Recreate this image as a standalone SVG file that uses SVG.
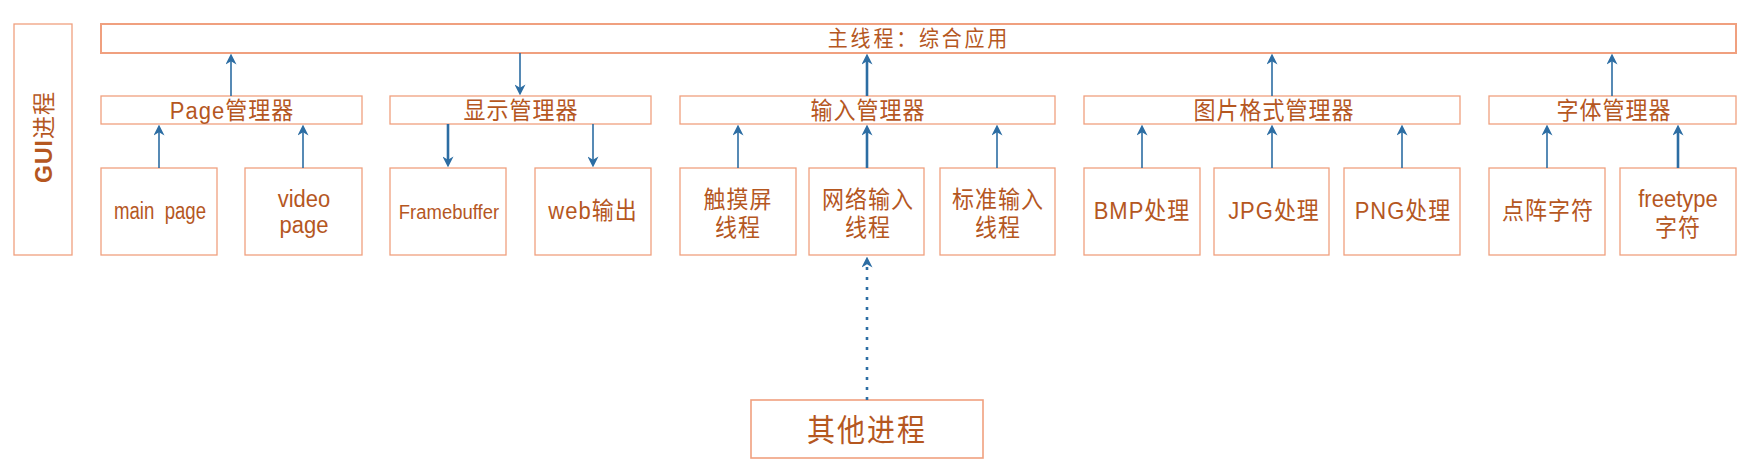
<svg xmlns="http://www.w3.org/2000/svg" width="1750" height="470" viewBox="0 0 1750 470">
<style>
.box{fill:#fff;stroke:#F0A07F;stroke-width:1.3}
.main{fill:#fff;stroke:#F0A07F;stroke-width:2}
.t,.g{font-family:"Liberation Sans","Noto Sans CJK SC",sans-serif;font-size:22px;fill:#B5571F;text-anchor:middle;letter-spacing:1px}
.t{transform-box:fill-box;transform-origin:center;transform:scaleY(1.1)}
.a{stroke:#2C6DA3;stroke-width:1.6;fill:none;marker-end:url(#ah)}
.k{stroke-width:2.6}
.d{stroke-width:2.6;stroke-dasharray:3 7}
</style>
<defs>
<marker id="ah" markerUnits="userSpaceOnUse" viewBox="0 0 10 10" refX="6" refY="5" markerWidth="11" markerHeight="11" orient="auto">
<path d="M0,0 L10,5 L0,10 L3,5 z" fill="#2C6DA3"/>
</marker>
</defs>
<rect width="1750" height="470" fill="#fff"/>
<g id="gui">
<rect class="box" x="14" y="24" width="58" height="231"/>
<g transform="translate(52,137) rotate(-90)"><text class="g" x="0" y="0" style="font-size:23px"><tspan font-weight="bold">GUI</tspan>进程</text></g>
</g>
<g id="mainthread">
<rect class="main" x="101" y="24" width="1635" height="29"/>
<text class="t" x="919" y="45" style="font-size:20px;letter-spacing:2.8px">主线程：综合应用</text>
</g>
<g id="pagemgr"><rect class="box" x="101" y="96" width="261" height="28"/><text class="t" x="232" y="118">Page管理器</text></g>
<g id="dispmgr"><rect class="box" x="390" y="96" width="261" height="28"/><text class="t" x="521" y="118">显示管理器</text></g>
<g id="inputmgr"><rect class="box" x="680" y="96" width="375" height="28"/><text class="t" x="868" y="118">输入管理器</text></g>
<g id="imgmgr"><rect class="box" x="1084" y="96" width="376" height="28"/><text class="t" x="1274" y="118">图片格式管理器</text></g>
<g id="fontmgr"><rect class="box" x="1489" y="96" width="247" height="28"/><text class="t" x="1614" y="118">字体管理器</text></g>

<g id="mainpage"><rect class="box" x="101" y="168" width="116" height="87"/><text class="t" x="160" y="218" textLength="92" lengthAdjust="spacingAndGlyphs" style="font-size:22px;letter-spacing:0" xml:space="preserve">main  page</text></g>
<g id="videopage"><rect class="box" x="245" y="168" width="117" height="87"/><text class="t" x="304" y="206" style="letter-spacing:0">video</text><text class="t" x="304" y="232" style="letter-spacing:0">page</text></g>
<g id="framebuffer"><rect class="box" x="390" y="168" width="116" height="87"/><text class="t" x="449" y="218" style="font-size:18.5px;letter-spacing:0">Framebuffer</text></g>
<g id="web"><rect class="box" x="535" y="168" width="116" height="87"/><text class="t" x="593" y="218">web输出</text></g>
<g id="touch"><rect class="box" x="680" y="168" width="116" height="87"/><text class="t" x="738" y="207">触摸屏</text><text class="t" x="738" y="235">线程</text></g>
<g id="net"><rect class="box" x="809" y="168" width="115" height="87"/><text class="t" x="868" y="207">网络输入</text><text class="t" x="868" y="235">线程</text></g>
<g id="stdin"><rect class="box" x="940" y="168" width="115" height="87"/><text class="t" x="998" y="207">标准输入</text><text class="t" x="998" y="235">线程</text></g>
<g id="bmp"><rect class="box" x="1084" y="168" width="116" height="87"/><text class="t" x="1142" y="218">BMP处理</text></g>
<g id="jpg"><rect class="box" x="1214" y="168" width="115" height="87"/><text class="t" x="1274" y="218">JPG处理</text></g>
<g id="png"><rect class="box" x="1344" y="168" width="116" height="87"/><text class="t" x="1403" y="218">PNG处理</text></g>
<g id="dot"><rect class="box" x="1489" y="168" width="116" height="87"/><text class="t" x="1548" y="218">点阵字符</text></g>
<g id="freetype"><rect class="box" x="1620" y="168" width="116" height="87"/><text class="t" x="1678" y="206" style="letter-spacing:0">freetype</text><text class="t" x="1678" y="235">字符</text></g>
<g id="other"><rect class="box" x="751" y="400" width="232" height="58" style="stroke-width:1.6"/><text class="t" x="867" y="440" style="font-size:28px;letter-spacing:2px">其他进程</text></g>

<g id="connectors">
<line class="a" x1="231" y1="96" x2="231" y2="58"/>
<line class="a" x1="520" y1="53" x2="520" y2="91"/>
<line class="a" x1="159" y1="168" x2="159" y2="129"/>
<line class="a" x1="303" y1="168" x2="303" y2="129"/>
<line class="a k" x1="448" y1="124" x2="448" y2="163"/>
<line class="a" x1="593" y1="124" x2="593" y2="163"/>
<line class="a k" x1="867" y1="96" x2="867" y2="58"/>
<line class="a" x1="738" y1="168" x2="738" y2="129"/>
<line class="a k" x1="867" y1="168" x2="867" y2="129"/>
<line class="a" x1="997" y1="168" x2="997" y2="129"/>
<line class="a" x1="1272" y1="96" x2="1272" y2="58"/>
<line class="a" x1="1142" y1="168" x2="1142" y2="129"/>
<line class="a" x1="1272" y1="168" x2="1272" y2="129"/>
<line class="a" x1="1402" y1="168" x2="1402" y2="129"/>
<line class="a" x1="1612" y1="96" x2="1612" y2="58"/>
<line class="a" x1="1547" y1="168" x2="1547" y2="129"/>
<line class="a k" x1="1678" y1="168" x2="1678" y2="129"/>
<line class="a d" x1="867" y1="400" x2="867" y2="261"/>
</g>
</svg>
